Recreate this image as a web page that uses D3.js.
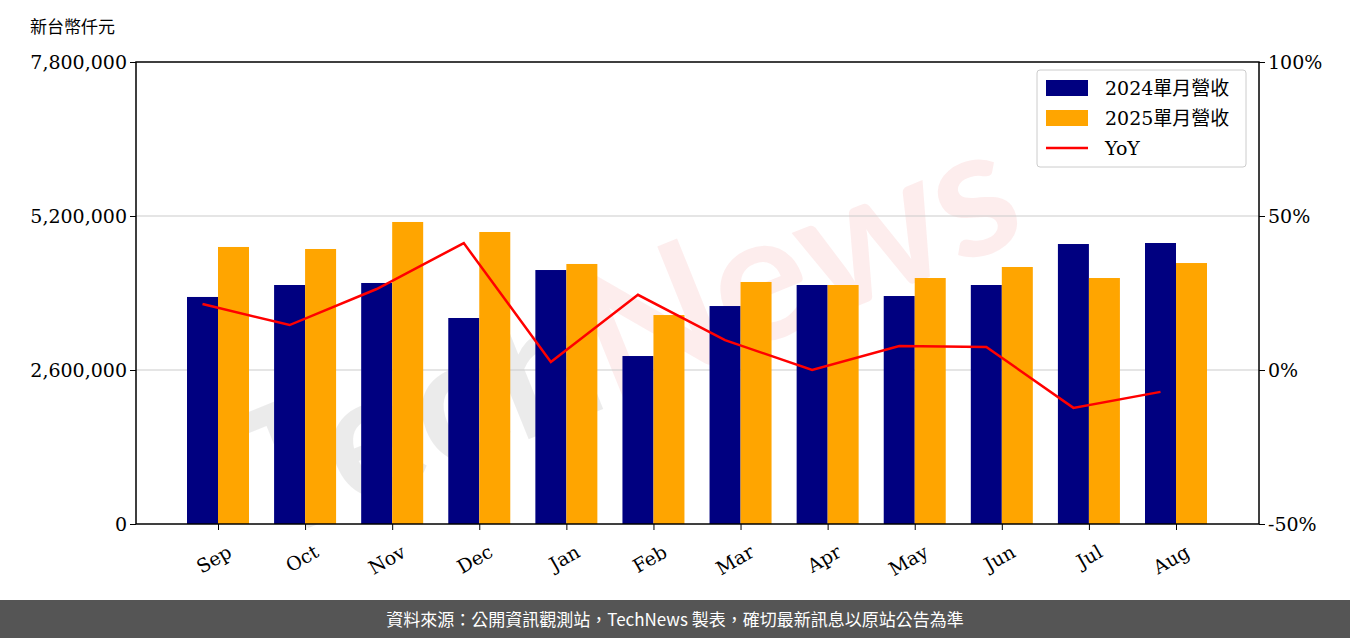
<!DOCTYPE html><html><head><meta charset="utf-8"><script src="https://cdn.jsdelivr.net/npm/d3@7"></script>
<style>body{margin:0;background:#fff}</style></head><body><svg id="c" width="1350" height="638"></svg><script>
const categories=["Sep","Oct","Nov","Dec","Jan","Feb","Mar","Apr","May","Jun","Jul","Aug"];
const rev2024=[3833000,4035000,4069000,3478000,4288000,2836000,3680000,4035000,3849000,4035000,4727000,4744000];
const rev2025=[4677000,4643000,5099000,4930000,4390000,3528000,4086000,4035000,4153000,4339000,4153000,4406000];
const yoy=[21.4,14.6,26.3,41.2,2.6,24.4,9.7,0,7.8,7.5,-12.3,-7.1];
const leftTicks=[0,2600000,5200000,7800000];
const rightTicks=[-50,0,50,100];
const svg=d3.select("#c");
const L=136,R=1259,T=62,B=524;
const x=d3.scaleLinear().domain([0,11]).range([218,1176]);
const y=d3.scaleLinear().domain([0,7800000]).range([B,T]);
const y2=d3.scaleLinear().domain([-50,100]).range([B,T]);
const bw=31;
const wm=svg.append("text").attr("text-anchor","middle").attr("transform","translate(650,390) rotate(-22)")
 .style("font-family","Lato,sans-serif").style("font-size","180px").style("font-weight","bold");
wm.append("tspan").attr("fill","#000").attr("fill-opacity",0.08).text("Tech");
wm.append("tspan").attr("fill","#e33").attr("fill-opacity",0.09).text("News");
svg.append("g").selectAll("line").data(leftTicks.slice(1,3)).join("line").attr("x1",L).attr("x2",R)
 .attr("y1",d=>y(d)).attr("y2",d=>y(d)).attr("stroke","#ccc").attr("stroke-width",1.2);
svg.append("g").selectAll("rect").data(rev2024).join("rect").attr("x",(d,i)=>x(i)-bw).attr("width",bw)
 .attr("y",d=>y(d)).attr("height",d=>B-y(d)).attr("fill","#000080");
svg.append("g").selectAll("rect").data(rev2025).join("rect").attr("x",(d,i)=>x(i)).attr("width",bw)
 .attr("y",d=>y(d)).attr("height",d=>B-y(d)).attr("fill","#FFA500");
svg.append("path").datum(yoy).attr("d",d3.line().x((d,i)=>x(i)-bw/2).y(d=>y2(d))).attr("fill","none").attr("stroke","red").attr("stroke-width",2.5);
svg.append("rect").attr("x",L).attr("y",T).attr("width",R-L).attr("height",B-T).attr("fill","none").attr("stroke","#000").attr("stroke-width",1.5);
const ax=svg.append("g").attr("transform",`translate(${L},0)`).call(d3.axisLeft(y).tickValues(leftTicks).tickFormat(d3.format(",")).tickSizeOuter(0).tickSize(6));
const ax2=svg.append("g").attr("transform",`translate(${R},0)`).call(d3.axisRight(y2).tickValues(rightTicks).tickFormat(d=>d+"%").tickSizeOuter(0).tickSize(6));
const axb=svg.append("g").attr("transform",`translate(0,${B})`).call(d3.axisBottom(x).tickValues(d3.range(12)).tickFormat(i=>categories[i]).tickSizeOuter(0));
[ax,ax2,axb].forEach(a=>{a.select(".domain").remove();a.selectAll("text").style("font-family","DejaVu Serif,serif").style("font-size","19px").attr("fill","#000");a.selectAll("line").attr("stroke","#000");});
ax.selectAll("text").attr("dy","0.35em");ax2.selectAll("text").attr("dy","0.35em");
axb.selectAll("text").attr("text-anchor","end").attr("dy","0").attr("transform","translate(10,24) rotate(-30)");
svg.append("text").attr("x",30).attr("y",33).style("font-family","Noto Sans CJK TC").style("font-size","17px").text("新台幣仟元");
const lg=svg.append("g");
lg.append("rect").attr("x",1037).attr("y",70).attr("width",209).attr("height",97).attr("rx",3).attr("fill","#fff").attr("fill-opacity",0.85).attr("stroke","#ccc");
const items=[["2024單月營收","#000080","r"],["2025單月營收","#FFA500","r"],["YoY","red","l"]];
items.forEach((it,i)=>{const yy=88+i*30;
 if(it[2]=="r")lg.append("rect").attr("x",1046).attr("y",yy-8).attr("width",42).attr("height",16).attr("fill",it[1]);
 else lg.append("line").attr("x1",1046).attr("x2",1088).attr("y1",yy).attr("y2",yy).attr("stroke",it[1]).attr("stroke-width",2.5);
 lg.append("text").attr("x",1105).attr("y",yy+7).style("font-family","DejaVu Serif,'Noto Sans CJK TC'").style("font-size","19px").text(it[0]);});
svg.append("rect").attr("x",0).attr("y",600).attr("width",1350).attr("height",38).attr("fill","#555");
svg.append("text").attr("x",675).attr("y",626).attr("text-anchor","middle").attr("fill","#fff").style("font-family","Noto Sans CJK TC").style("font-size","17px").text("資料來源：公開資訊觀測站，TechNews 製表，確切最新訊息以原站公告為準");
</script></body></html>
